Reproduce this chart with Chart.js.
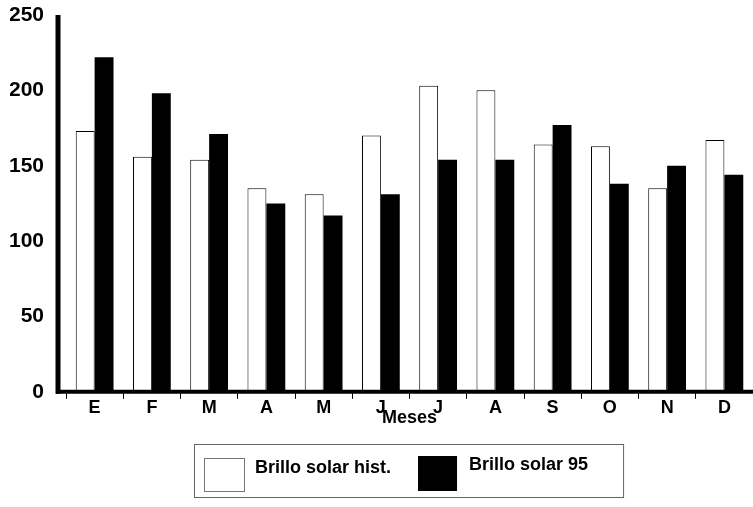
<!DOCTYPE html>
<html><head><meta charset="utf-8">
<script src="https://cdn.jsdelivr.net/npm/chart.js@4"></script>
<style>html,body{margin:0;padding:0;background:#fff}#wrap{width:753px;height:507px}</style>
</head><body><div id="wrap"><canvas id="c" width="753" height="507"></canvas></div>
<script>
const months = ["E","F","M","A","M","J","J","A","S","O","N","D"];
const brilloHist = [173,156,154,135,131,170,203,200,164,163,135,167];
const brillo95 = [222,198,171,125,117,131,154,154,177,138,150,144];
const yTicks = [0,50,100,150,200,250];
const seriesNames = ["Brillo solar hist.","Brillo solar 95"];

const F = "'Liberation Sans', Arial, sans-serif";

const axesAndLegend = {
  id:'axesAndLegend',
  afterDraw(chart){
    const ctx = chart.ctx, a = chart.chartArea;
    ctx.save();
    const ax = a.left - 8;
    ctx.strokeStyle = '#000';
    ctx.lineWidth = 5;
    ctx.beginPath(); ctx.moveTo(ax, a.top); ctx.lineTo(ax, a.bottom + 2); ctx.stroke();
    ctx.lineWidth = 4;
    ctx.beginPath(); ctx.moveTo(ax - 2, a.bottom); ctx.lineTo(a.right, a.bottom); ctx.stroke();
    // legend
    ctx.font = "bold 18px " + F;
    const t1 = ctx.measureText(seriesNames[0]).width, t2 = ctx.measureText(seriesNames[1]).width;
    const w = 10 + 40 + 11 + t1 + 27 + 40 + 12 + t2 + 30;
    const h = 53;
    const cx = (a.left + a.right) / 2;
    const left = Math.round(cx - w / 2) - 3, top = chart.height - 63;
    ctx.lineWidth = 1; ctx.strokeStyle = '#666';
    ctx.strokeRect(left + 0.5, top + 0.5, w + 4, h);
    let x = left + 10; const sy = top + 14;
    const ds = chart.data.datasets;
    ctx.fillStyle = ds[0].backgroundColor; ctx.fillRect(x, sy, 40, 33);
    ctx.strokeStyle = '#777'; ctx.strokeRect(x + 0.5, sy + 0.5, 40, 33);
    x += 40 + 11;
    ctx.fillStyle = '#000'; ctx.textBaseline = 'middle'; ctx.textAlign = 'left';
    ctx.fillText(seriesNames[0], x, top + 24);
    x += t1 + 27;
    ctx.fillStyle = ds[1].backgroundColor; ctx.fillRect(x, sy - 2, 39, 35);
    x += 39 + 12;
    ctx.fillStyle = '#000';
    ctx.fillText(seriesNames[1], x, top + 21);
    ctx.restore();
  }
};

new Chart(document.getElementById('c'), {
  type:'bar',
  data:{labels:months,datasets:[
    {label:seriesNames[0],data:brilloHist,backgroundColor:'#fff',borderColor:'#000',borderWidth:1},
    {label:seriesNames[1],data:brillo95,backgroundColor:'#000',borderColor:'#000',borderWidth:0}
  ]},
  options:{
    responsive:false,animation:false,
    layout:{padding:{left:10,right:0,top:15,bottom:78}},
    datasets:{bar:{categoryPercentage:0.66,barPercentage:1.0}},
    plugins:{tooltip:{enabled:false},legend:{display:false}},
    scales:{
      x:{grid:{display:true,drawOnChartArea:false,offset:true,color:'#000',tickLength:7,lineWidth:1},
         border:{display:false},
         ticks:{color:'#000',font:{family:F,size:18,weight:'bold'},padding:-2},
         title:{display:true,text:'Meses',color:'#000',font:{family:F,size:18,weight:'bold'},padding:{top:-9,bottom:0}},
         afterFit(s){s.paddingLeft=0;s.paddingRight=0;}},
      y:{min:0,max:250,afterBuildTicks(ax){ax.ticks=yTicks.map(v=>({value:v}));},
         grid:{display:false,drawTicks:false,tickLength:0},
         border:{display:false},
         ticks:{color:'#000',font:{family:F,size:21,weight:'bold'},padding:22},
         afterFit(s){s.width=56;s.paddingTop=0;s.paddingBottom=0;}}
    }
  },
  plugins:[axesAndLegend]
});
</script></body></html>
